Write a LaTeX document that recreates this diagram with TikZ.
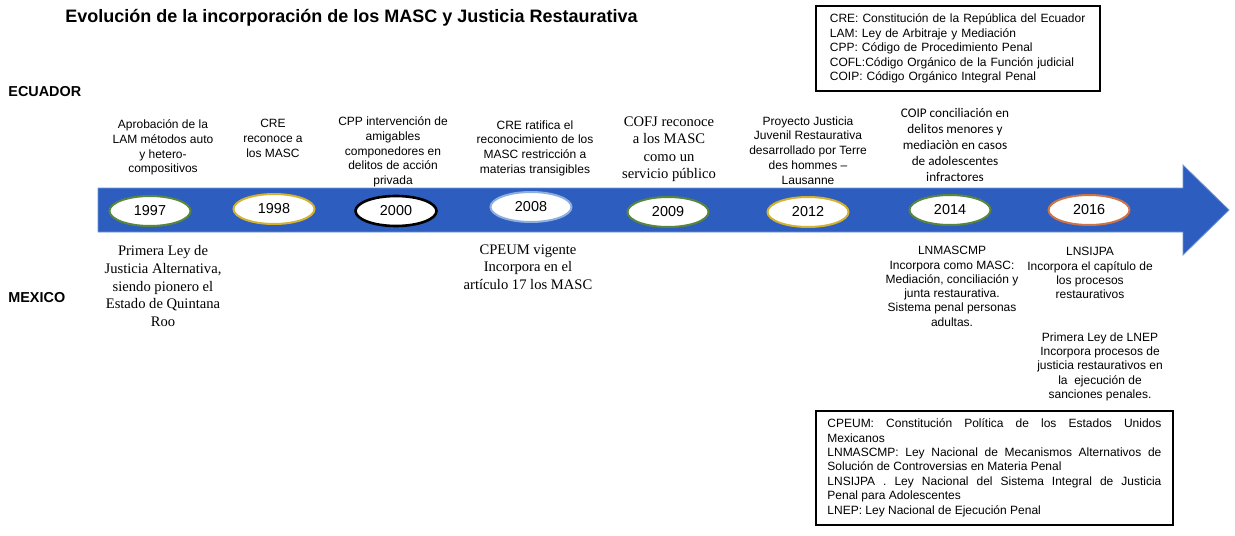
\documentclass[tikz,border=0pt]{standalone}
\usepackage{fontspec}
\setmainfont{Liberation Serif}
\setsansfont{Liberation Sans}
\newfontfamily\calibrifont{Carlito}
\usepackage{tikz}
\usetikzlibrary{shapes.geometric}
\definecolor{arrowblue}{RGB}{45,93,190}
\definecolor{arrowedge}{RGB}{110,150,215}
\definecolor{rimgreen}{RGB}{88,135,60}
\definecolor{rimgold}{RGB}{212,178,45}
\definecolor{rimblue}{RGB}{140,175,222}
\definecolor{rimorange}{RGB}{205,115,70}
\tikzset{
yearnode/.style={ellipse,fill=white,minimum width=40.5pt,minimum height=15pt,inner sep=0pt,font=\sffamily\fontsize{7.2}{8}\selectfont},
topnote/.style={anchor=north,align=center,inner sep=0pt,font=\sffamily\fontsize{6}{7.45}\selectfont},
lownote/.style={anchor=north,align=center,inner sep=0pt,font=\sffamily\fontsize{6}{7.15}\selectfont},
serifnote/.style={anchor=north,align=center,inner sep=0pt,font=\rmfamily\fontsize{7.3}{8.8}\selectfont},
country/.style={anchor=west,inner sep=0pt,font=\sffamily\bfseries\fontsize{7.2}{8}\selectfont},
legendbox/.style={draw,line width=0.9pt,anchor=north west,inner ysep=4pt,font=\sffamily\fontsize{6}{7.2}\selectfont}
}
\begin{document}
\begin{tikzpicture}[x=0.5pt,y=-0.5pt]
\useasboundingbox (0,0) rectangle (1235,535);
\node[anchor=west,inner sep=0pt,font=\sffamily\bfseries\fontsize{9}{10}\selectfont] (title) at (65,18) {Evolución de la incorporación de los MASC y Justicia Restaurativa};
\node[country] (ecu) at (8,92) {ECUADOR};
\node[country] (mex) at (8,298) {MEXICO};
\filldraw[fill=arrowblue,draw=arrowedge,line width=0.4pt] (98,188)--(1183,188)--(1183,165)--(1229,210)--(1183,255)--(1183,232)--(98,232)--cycle;
\foreach \x/\y/\yr/\c/\w in {150/211/1997/rimgreen/1pt,274/209/1998/rimgold/1pt,396/211/2000/black/1.3pt,531/207/2008/rimblue/1pt,668/212/2009/rimgreen/1pt,808/212/2012/rimgold/1pt,950/210/2014/rimgreen/1pt,1089/210/2016/rimorange/1pt} {
\node[yearnode,draw=\c,line width=\w] (e\yr) at (\x,\y) {\yr};}
\node[topnote] (t1997) at (163,119) {Aprobación de la\\LAM métodos auto\\y hetero-\\compositivos};
\node[topnote] (t1998) at (273,119) {CRE\\reconoce a\\los MASC};
\node[topnote] (t2000) at (393,116) {CPP intervención de\\amigables\\componedores en\\delitos de acción\\privada};
\node[topnote] (t2008) at (535,120) {CRE ratifica el\\reconocimiento de los\\MASC restricción a\\materias transigibles};
\node[serifnote] (t2009) at (669,116) {COFJ reconoce\\a los MASC\\como un\\servicio público};
\node[topnote] (t2012) at (808,116) {Proyecto Justicia\\Juvenil Restaurativa\\desarrollado por Terre\\des hommes --\\Lausanne};
\node[topnote,font=\calibrifont\fontsize{6.6}{8}\selectfont] (t2014) at (955,108) {COIP conciliación en\\delitos menores y\\mediaciòn en casos\\de adolescentes\\infractores};
\node[serifnote,font=\rmfamily\fontsize{7.3}{8.9}\selectfont] (m1997) at (163,245) {Primera Ley de\\Justicia Alternativa,\\siendo pionero el\\Estado de Quintana\\Roo};
\node[serifnote,font=\rmfamily\fontsize{7.3}{8.9}\selectfont] (m2008) at (528,244) {CPEUM vigente\\Incorpora en el\\artículo 17 los MASC};
\node[lownote] (m2014) at (952,246) {LNMASCMP\\Incorpora como MASC:\\Mediación, conciliación y\\junta restaurativa.\\Sistema penal personas\\adultas.};
\node[lownote] (m2016) at (1090,247) {LNSIJPA\\Incorpora el capítulo de\\los procesos\\restaurativos};
\node[lownote] (m2016b) at (1100,332) {Primera Ley de LNEP\\Incorpora procesos de\\justicia restaurativos en\\la\ \ ejecución de\\sanciones penales.};
\node[legendbox,inner xsep=7pt,text width=128pt,align=left,font=\sffamily\fontsize{6}{7.25}\selectfont] (legecu) at (815,5) {CRE: Constitución de la República del Ecuador\\LAM: Ley de Arbitraje y Mediación\\CPP: Código de Procedimiento Penal\\COFL:Código Orgánico de la Función judicial\\COIP: Código Orgánico Integral Penal};
\node[legendbox,inner xsep=5.75pt,text width=167pt,align=justify] (legmex) at (815,410) {CPEUM: Constitución Política de los Estados Unidos\linebreak Mexicanos\par LNMASCMP: Ley Nacional de Mecanismos Alternativos de\linebreak Solución de Controversias en Materia Penal\par LNSIJPA . Ley Nacional del Sistema Integral de Justicia\linebreak Penal para Adolescentes\par LNEP: Ley Nacional de Ejecución Penal};
\end{tikzpicture}
\end{document}
